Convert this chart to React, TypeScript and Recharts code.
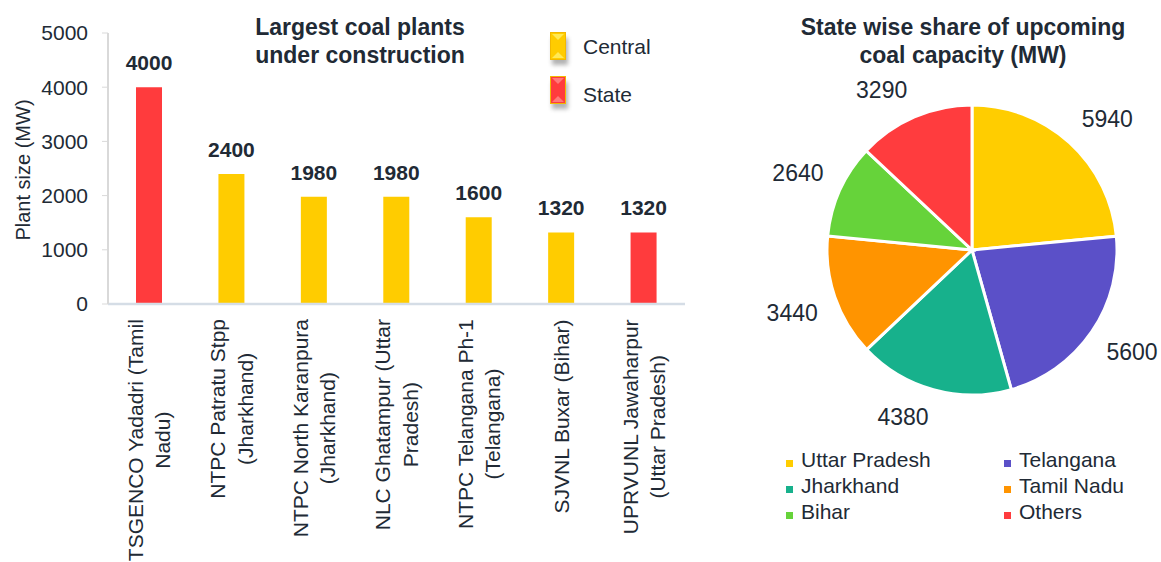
import React from 'react';
import { BarChart, Bar, XAxis, YAxis, Cell, LabelList, PieChart, Pie } from 'recharts';

// left chart: largest plants under construction
const plants = [
  'TSGENCO Yadadri (Tamil\nNadu)',
  'NTPC Patratu Stpp\n(Jharkhand)',
  'NTPC North Karanpura\n(Jharkhand)',
  'NLC Ghatampur (Uttar\nPradesh)',
  'NTPC Telangana Ph-1\n(Telangana)',
  'SJVNL Buxar (Bihar)',
  'UPRVUNL Jawaharpur\n(Uttar Pradesh)',
];
const plantSizes = [4000, 2400, 1980, 1980, 1600, 1320, 1320];
const owners = ['State', 'Central', 'Central', 'Central', 'Central', 'Central', 'State'];
const ownerTypes = ['Central', 'State'];
const yTicks = [0, 1000, 2000, 3000, 4000, 5000];

// right chart: state wise share
const states = ['Uttar Pradesh', 'Telangana', 'Jharkhand', 'Tamil Nadu', 'Bihar', 'Others'];
const capacity = [5940, 5600, 4380, 3440, 2640, 3290];

const ownerColors: Record<string, string> = { Central: '#FFCC00', State: '#FF3B3D' };
const stateColors = ['#FFCD00', '#5B50C8', '#17B18C', '#FF9400', '#66D33A', '#FF3C3E'];

const FONT = "'Liberation Sans', Arial, sans-serif";
const INK = '#212a35';

const barData = plants.map((name, i) => ({ name, size: plantSizes[i], owner: owners[i] }));
const pieData = states.map((name, i) => ({ name, value: capacity[i] }));

const measureCtx = typeof document !== 'undefined' ? document.createElement('canvas').getContext('2d') : null;
function textWidth(s: string, font: string) {
  if (!measureCtx) return s.length * 10;
  measureCtx.font = font;
  return measureCtx.measureText(s).width;
}

function PlantTick(props: any) {
  const { x, y, payload } = props;
  const lines = String(payload.value).split('\n');
  const maxW = Math.max(...lines.map((l) => textWidth(l, `21px ${FONT}`)));
  const midY = y + 15 + maxW / 2;
  return (
    <g>
      {lines.map((l, i) => {
        const lx = x + (i - (lines.length - 1) / 2) * 27.5;
        return (
          <text key={i} x={lx} y={midY} transform={`rotate(-90 ${lx} ${midY})`} textAnchor="middle"
            dominantBaseline="central" fontSize={21} fill={INK}>
            {l}
          </text>
        );
      })}
    </g>
  );
}

const renderValueLabel = (props: any) => {
  const { x, y, width, value } = props;
  return (
    <text x={x + width / 2} y={y - 17} textAnchor="middle" fontSize={21} fontWeight="bold" fill={INK}>
      {value}
    </text>
  );
};

// outside-end label: the box corner nearest the pie sits just beyond the rim
const renderPieLabel = (props: any) => {
  const { cx, cy, midAngle, outerRadius, value } = props;
  const rad = Math.PI / 180;
  const c = Math.cos(-midAngle * rad);
  const s = Math.sin(-midAngle * rad);
  const d = outerRadius + 18;
  const halfW = textWidth(String(value), `23px ${FONT}`) / 2;
  const tx = cx + d * c + Math.sign(c) * halfW;
  const ty = cy + d * s + Math.sign(s) * 10;
  return (
    <text x={tx} y={ty} textAnchor="middle" dominantBaseline="central" fontSize={23} fill={INK}>
      {value}
    </text>
  );
};

function OwnerIcon({ color }: { color: string }) {
  const light = color === '#FFCC00' ? '#FFF06A' : '#FF8A8A';
  return (
    <svg width={24} height={40} style={{ display: 'block', overflow: 'visible' }}>
      <defs>
        <filter id={`sh${color.slice(1)}`} x="-50%" y="-50%" width="200%" height="200%">
          <feGaussianBlur stdDeviation="2" />
        </filter>
      </defs>
      <rect x={2} y={6} width={16} height={27} fill="#555" opacity={0.45} filter={`url(#sh${color.slice(1)})`} />
      <rect x={0.5} y={0.5} width={15} height={27} fill={color} stroke="#F2B800" strokeWidth={1} />
      <polygon points="2,2 14,2 8,8" fill={light} opacity={0.8} />
      <polygon points="2,26 14,26 8,20" fill={light} opacity={0.8} />
    </svg>
  );
}

export default function App() {
  return (
    <div style={{ position: 'absolute', left: 0, top: 0, width: 1161, height: 562, background: '#fff', fontFamily: FONT, color: INK }}>
      {/* bar chart */}
      <div style={{ position: 'absolute', left: 0, top: 0 }}>
        <BarChart width={700} height={562} data={barData} margin={{ top: 33, right: 15, left: 0, bottom: 0 }}>
          <XAxis dataKey="name" height={258} interval={0} tickLine={false} tickSize={0} tickMargin={0}
            axisLine={{ stroke: '#d5dde6', strokeWidth: 2.5 }} tick={<PlantTick />} />
          <YAxis width={108} domain={[0, 5000]} ticks={yTicks} interval={0} tickSize={6} tickMargin={14}
            axisLine={{ stroke: '#d9d9d9', strokeWidth: 2 }} tickLine={{ stroke: '#d9d9d9' }}
            tick={{ fill: INK, fontSize: 21 }}
            label={{
              content: () => (
                <text x={23} y={170} transform="rotate(-90 23 170)" textAnchor="middle" dominantBaseline="central"
                  fontSize={20} fill={INK}>
                  Plant size (MW)
                </text>
              ),
            }} />
          <Bar dataKey="size" barSize={26} isAnimationActive={false}>
            {barData.map((d, i) => (
              <Cell key={i} fill={ownerColors[d.owner]} />
            ))}
            <LabelList dataKey="size" content={renderValueLabel} />
          </Bar>
        </BarChart>
      </div>
      <div style={{ position: 'absolute', left: 160, top: 13, width: 400, textAlign: 'center', fontSize: 23, lineHeight: '28px', fontWeight: 'bold' }}>
        Largest coal plants<br />under construction
      </div>
      {ownerTypes.map((t, i) => (
        <React.Fragment key={t}>
          <div style={{ position: 'absolute', left: 550, top: 32 + i * 44 }}>
            <OwnerIcon color={ownerColors[t]} />
          </div>
          <div style={{ position: 'absolute', left: 583, top: 33 + i * 47.5, fontSize: 21, lineHeight: '28px' }}>{t}</div>
        </React.Fragment>
      ))}

      {/* pie chart */}
      <div style={{ position: 'absolute', left: 720, top: 0 }}>
        <PieChart width={441} height={562} margin={{ top: 0, right: 0, bottom: 0, left: 0 }}>
          <Pie data={pieData} dataKey="value" nameKey="name" cx={252} cy={250} outerRadius={145}
            startAngle={90} endAngle={-270} stroke="#fff" strokeWidth={3} labelLine={false}
            label={renderPieLabel} isAnimationActive={false}>
            {pieData.map((d, i) => (
              <Cell key={d.name} fill={stateColors[i]} />
            ))}
          </Pie>
        </PieChart>
      </div>
      <div style={{ position: 'absolute', left: 763, top: 13, width: 400, textAlign: 'center', fontSize: 23, lineHeight: '28px', fontWeight: 'bold' }}>
        State wise share of upcoming<br />coal capacity (MW)
      </div>
      <div style={{ position: 'absolute', left: 786, top: 447, width: 370, display: 'grid', gridTemplateColumns: '218px 152px', fontSize: 21, lineHeight: '26px' }}>
        {states.map((s, i) => (
          <div key={s} style={{ whiteSpace: 'nowrap' }}>
            <span style={{ display: 'inline-block', width: 7, height: 7, background: stateColors[i], marginRight: 8, verticalAlign: 'baseline' }} />
            {s}
          </div>
        ))}
      </div>
    </div>
  );
}
